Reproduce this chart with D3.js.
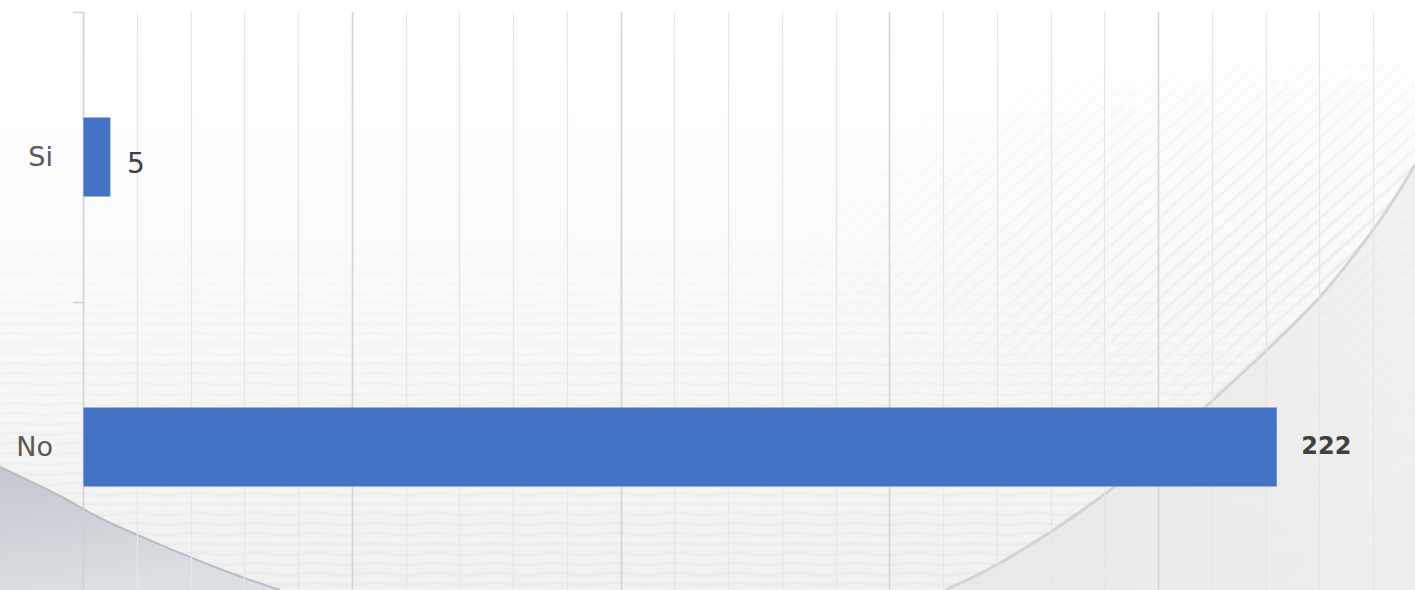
<!DOCTYPE html>
<html><head><meta charset="utf-8">
<script src="https://cdn.jsdelivr.net/npm/d3@7"></script>
<style>html,body{margin:0;padding:0;background:#fff;overflow:hidden}</style>
</head><body>
<svg id="chart" width="1415" height="590"></svg>
<script>
const categories = ["Si", "No"];
const values = [5, 222];
const xDomainMax = 240;
const minorStep = 10;
const majorStep = 50;

const W = 1415, H = 590;
const svg = d3.select("#chart");
const defs = svg.append("defs");

// background
const bg = defs.append("linearGradient").attr("id","bg").attr("x1",0).attr("y1",0).attr("x2",0).attr("y2",1);
bg.append("stop").attr("offset","0").attr("stop-color","#ffffff");
bg.append("stop").attr("offset","0.4").attr("stop-color","#fbfbfb");
bg.append("stop").attr("offset","1").attr("stop-color","#f1f1f1");
svg.append("rect").attr("width",W).attr("height",H).attr("fill","url(#bg)");

// texture stripes (horizontal waves, lower part)
const pat = defs.append("pattern").attr("id","stripes").attr("patternUnits","userSpaceOnUse")
  .attr("width",60).attr("height",10);
pat.append("path").attr("d","M0,4 Q15,2 30,4 T60,4").attr("stroke","#e6e6e6").attr("stroke-width",3).attr("fill","none");
const fadeG = defs.append("linearGradient").attr("id","fade").attr("x1",0).attr("y1",0).attr("x2",0).attr("y2",1);
fadeG.append("stop").attr("offset","0").attr("stop-color","#fff").attr("stop-opacity",0);
fadeG.append("stop").attr("offset","0.4").attr("stop-color","#fff").attr("stop-opacity",0.1);
fadeG.append("stop").attr("offset","0.8").attr("stop-color","#fff").attr("stop-opacity",0.7);
fadeG.append("stop").attr("offset","1").attr("stop-color","#fff").attr("stop-opacity",1);
const mask = defs.append("mask").attr("id","fmask");
mask.append("rect").attr("width",W).attr("height",H).attr("fill","url(#fade)");
svg.append("rect").attr("width",W).attr("height",H).attr("fill","url(#stripes)").attr("mask","url(#fmask)").attr("opacity",0.6);

// diagonal stripes on right
const pat2 = defs.append("pattern").attr("id","diag").attr("patternUnits","userSpaceOnUse")
  .attr("width",12).attr("height",12).attr("patternTransform","rotate(-42)");
pat2.append("rect").attr("width",12).attr("height",3).attr("fill","#e9e9e9");
const rg = defs.append("radialGradient").attr("id","rfade").attr("cx","0.95").attr("cy","0.45").attr("r","0.4");
rg.append("stop").attr("offset","0").attr("stop-color","#fff").attr("stop-opacity",0.8);
rg.append("stop").attr("offset","1").attr("stop-color","#fff").attr("stop-opacity",0);
const mask2 = defs.append("mask").attr("id","rmask");
mask2.append("rect").attr("width",W).attr("height",H).attr("fill","url(#rfade)");
svg.append("rect").attr("width",W).attr("height",H).attr("fill","url(#diag)").attr("mask","url(#rmask)");

// right curved region (decorative)
const rightPts = [[945,590],[1000,563],[1110,490],[1213,400],[1317,300],[1380,220],[1415,165]];
const curve = d3.line().curve(d3.curveCatmullRom.alpha(0.5));
const rightG = defs.append("linearGradient").attr("id","rightG").attr("x1",0).attr("y1",0).attr("x2",1).attr("y2",0);
rightG.append("stop").attr("offset","0").attr("stop-color","#e6e6e6");
rightG.append("stop").attr("offset","1").attr("stop-color","#eeeeee");
svg.append("path").attr("d", curve(rightPts) + "L1415,590Z").attr("fill","url(#rightG)").attr("opacity",0.75);
svg.append("path").attr("d", curve(rightPts)).attr("fill","none")
  .attr("stroke","#cdcdcd").attr("stroke-width",3).attr("opacity",0.8);

// left bottom region (decorative)
const leftPts = [[0,467],[62,497],[100,518],[220,569],[280,590]];
const leftG = defs.append("linearGradient").attr("id","leftG").attr("x1",0).attr("y1",0).attr("x2",0.3).attr("y2",1);
leftG.append("stop").attr("offset","0").attr("stop-color","#c4c8cf");
leftG.append("stop").attr("offset","0.5").attr("stop-color","#cfd2d8");
leftG.append("stop").attr("offset","1").attr("stop-color","#dcdfe3");
svg.append("path").attr("d", curve(leftPts) + "L0,590Z").attr("fill","url(#leftG)");
svg.append("path").attr("d", curve(leftPts)).attr("fill","none")
  .attr("stroke","#b8bcc3").attr("stroke-width",2);

// scales
const x = d3.scaleLinear().domain([0, xDomainMax]).range([83, 1373]);
const y = d3.scaleBand().domain(categories).range([12, 592]).paddingInner(0.7276).paddingOuter(0.3638);
const band = d3.scaleBand().domain(categories).range([12, 592]);

// gridlines
const ticks = d3.range(minorStep, xDomainMax + 1, minorStep);
svg.append("g").selectAll("line").data(ticks).join("line")
  .attr("x1", d => Math.round(x(d)) + 0.5).attr("x2", d => Math.round(x(d)) + 0.5)
  .attr("y1", 12).attr("y2", H)
  .attr("stroke", d => d % majorStep === 0 ? "#d4d4d4" : "#e6e6e6")
  .attr("stroke-width", d => d % majorStep === 0 ? 1.6 : 1.2);

// y axis
const yAxis = svg.append("g");
yAxis.append("line").attr("x1",83.5).attr("x2",83.5).attr("y1",12).attr("y2",H).attr("stroke","#d0d0d0").attr("stroke-width",1.5);
const tickYs = categories.map(c => band(c));
yAxis.selectAll("line.t").data(tickYs).join("line").attr("class","t")
  .attr("x1",73).attr("x2",83.5).attr("y1",d=>d+0.5).attr("y2",d=>d+0.5)
  .attr("stroke","#d0d0d0").attr("stroke-width",1.5);

// bars
svg.append("g").selectAll("rect").data(values).join("rect")
  .attr("x", x(0) + 0.5)
  .attr("y", (d,i) => y(categories[i]))
  .attr("width", d => x(d) - x(0))
  .attr("height", y.bandwidth())
  .attr("fill", "#4472C4");

// category labels
svg.append("g").selectAll("text").data(categories).join("text")
  .attr("x", 53)
  .attr("y", c => y(c) + y.bandwidth()/2 + 9)
  .attr("text-anchor","end")
  .attr("font-family","'DejaVu Sans', sans-serif")
  .attr("font-size", 27)
  .attr("fill","#595959")
  .text(c => c);

// value labels
svg.append("g").selectAll("text").data(values).join("text")
  .attr("x", (d,i) => x(d) + (i === 0 ? 17 : 25))
  .attr("y", (d,i) => y(categories[i]) + y.bandwidth()/2 + (i === 0 ? 16 : 7))
  .attr("font-family","'DejaVu Sans', sans-serif")
  .attr("font-size", (d,i) => i === 0 ? 28 : 24)
  .attr("font-weight", (d,i) => i === 0 ? 400 : 700)
  .attr("fill","#404040")
  .text(d => d);
</script>
</body></html>
